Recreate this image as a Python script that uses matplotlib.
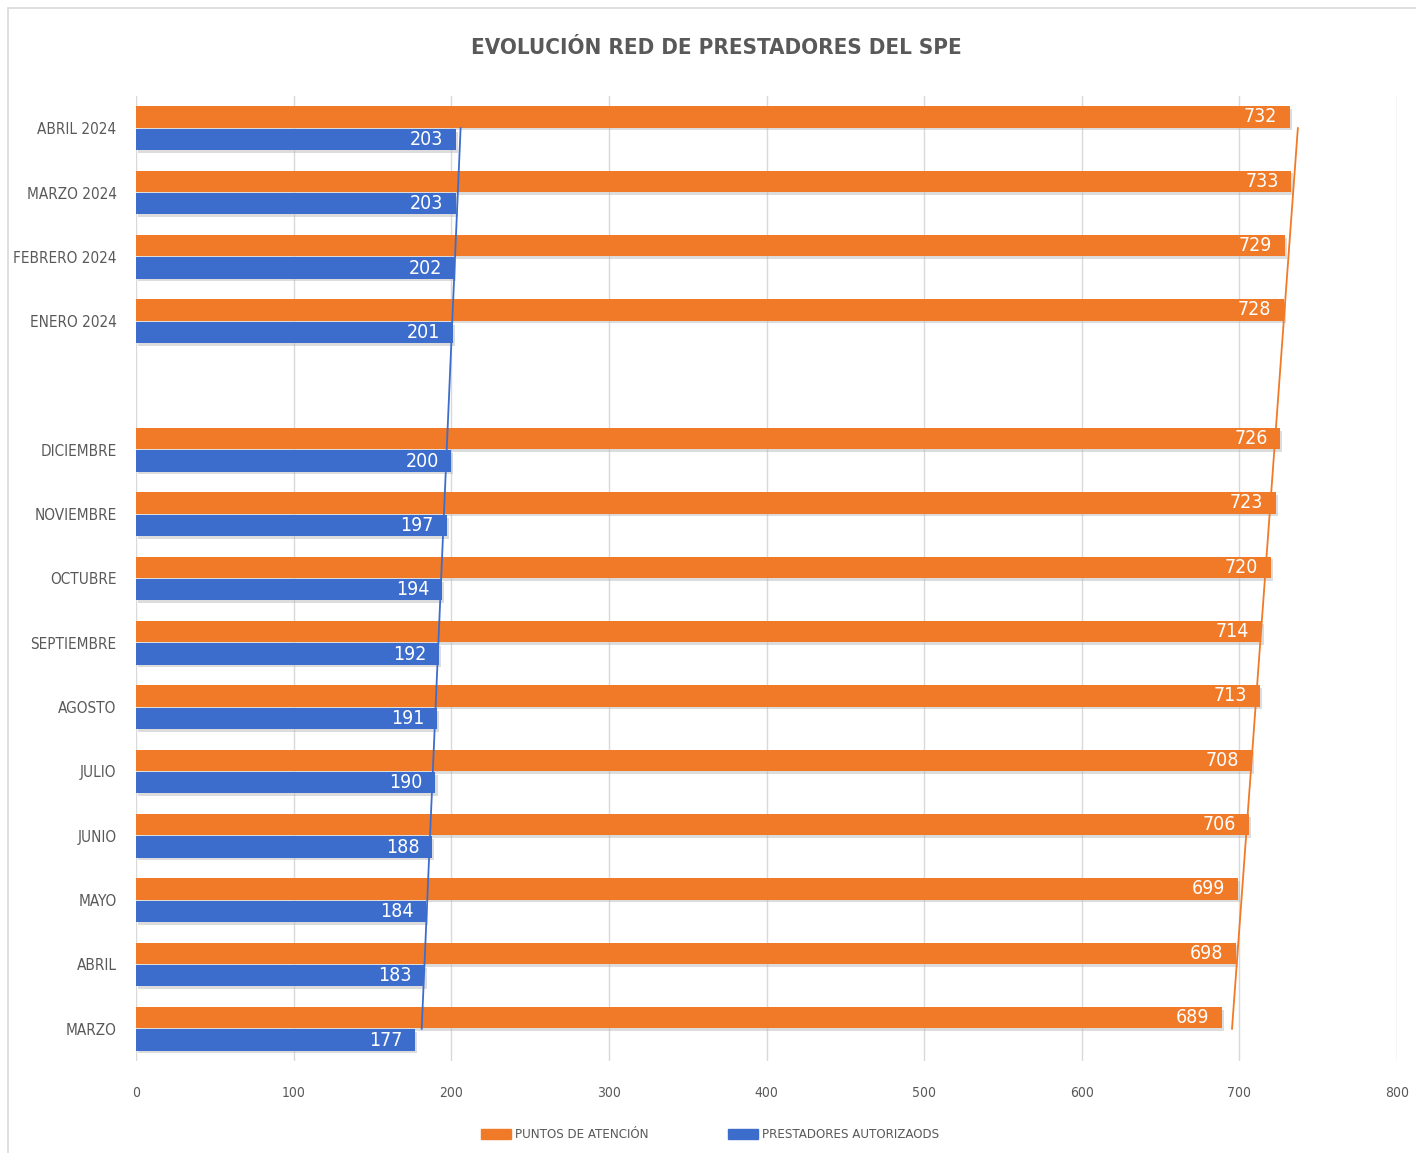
import matplotlib
matplotlib.use("Agg")
import matplotlib.pyplot as plt
import matplotlib.patheffects as pe
from matplotlib.patches import Rectangle, Patch
import numpy as np

# Data (top to bottom as displayed); None = blank gap category
categories = ["ABRIL 2024", "MARZO 2024", "FEBRERO 2024", "ENERO 2024", "",
              "DICIEMBRE", "NOVIEMBRE", "OCTUBRE", "SEPTIEMBRE", "AGOSTO",
              "JULIO", "JUNIO", "MAYO", "ABRIL", "MARZO"]
puntos = [732, 733, 729, 728, None, 726, 723, 720, 714, 713, 708, 706, 699, 698, 689]
prestadores = [203, 203, 202, 201, None, 200, 197, 194, 192, 191, 190, 188, 184, 183, 177]
xticks = [0, 100, 200, 300, 400, 500, 600, 700, 800]

ORANGE = "#F07A27"
BLUE = "#3D6DCC"
GRAY = "#595959"
plt.rcParams["font.family"] = ["DejaVu Sans"]
plt.rcParams["font.stretch"] = "condensed"

fig = plt.figure(figsize=(14.16, 11.53), dpi=100)
ax = fig.add_axes([136/1416, 1-1061/1153, (1397-136)/1416, (1061-96)/1153])

n = len(categories)
ypos = np.arange(n)[::-1]  # top category at highest y
off = 0.175
h = 0.33
shadow = [pe.SimplePatchShadow(offset=(1.5, -2), shadow_rgbFace="#BBBBBB", alpha=0.5), pe.Normal()]

for y, p, b in zip(ypos, puntos, prestadores):
    if p is None:
        continue
    ax.barh(y + off, p, height=h, color=ORANGE, path_effects=shadow, zorder=3)
    ax.barh(y - off, b, height=h, color=BLUE, path_effects=shadow, zorder=3)
    ax.text(p - 8, y + off, str(p), color="white", ha="right", va="center",
            fontsize=14, fontstretch="condensed", zorder=5)
    ax.text(b - 8, y - off, str(b), color="white", ha="right", va="center",
            fontsize=14, fontstretch="condensed", zorder=5)

# linear trend lines through category centres
idx = np.array([y for y, p in zip(ypos, puntos) if p is not None], dtype=float)
pv = np.array([p for p in puntos if p is not None], dtype=float)
bv = np.array([b for b in prestadores if b is not None], dtype=float)
yy = np.array([ypos.min(), ypos.max()], dtype=float)
cp = np.polyfit(idx, pv, 1)
cb = np.polyfit(idx, bv, 1)
ax.plot(np.polyval(cp, yy), yy, color=ORANGE, lw=1.3, zorder=6)
ax.plot(np.polyval(cb, yy), yy, color=BLUE, lw=1.3, zorder=6)

ax.set_xlim(0, 800)
ax.set_ylim(-0.5, n - 0.5)
ax.set_xticks(xticks)
ax.set_xticklabels([str(t) for t in xticks], fontsize=10, color=GRAY, fontstretch="condensed")
ax.set_yticks(ypos)
ax.set_yticklabels(categories, fontsize=11, color=GRAY, fontstretch="condensed")
ax.tick_params(axis="y", length=0, pad=14)
ax.tick_params(axis="x", length=0, pad=18)
ax.grid(axis="x", color="#D9D9D9", lw=1, zorder=0)
ax.set_axisbelow(True)
for s in ax.spines.values():
    s.set_visible(False)

fig.text(716/1416, 1-48/1153, "EVOLUCIÓN RED DE PRESTADORES DEL SPE", ha="center", va="center",
         fontsize=16, fontweight="bold", fontstretch="condensed", color=GRAY)

handles = [Patch(facecolor=ORANGE, edgecolor=ORANGE), Patch(facecolor=BLUE, edgecolor=BLUE)]
leg = fig.legend(handles, ["PUNTOS DE ATENCIÓN", "PRESTADORES AUTORIZAODS"], loc="center",
                 bbox_to_anchor=(710/1416, 1-1135/1153), ncol=2, frameon=False,
                 prop={"size": 9.5, "stretch": "condensed"}, handlelength=2.3, handleheight=0.7,
                 columnspacing=6.0, labelcolor=GRAY, handletextpad=0.3)

fig.add_artist(Rectangle((8/1416, -0.01), 1.02, 1 - 8/1153 + 0.01, transform=fig.transFigure,
                         fill=False, edgecolor="#D9D9D9", lw=1.2))

fig.savefig("out.png", dpi=100)
